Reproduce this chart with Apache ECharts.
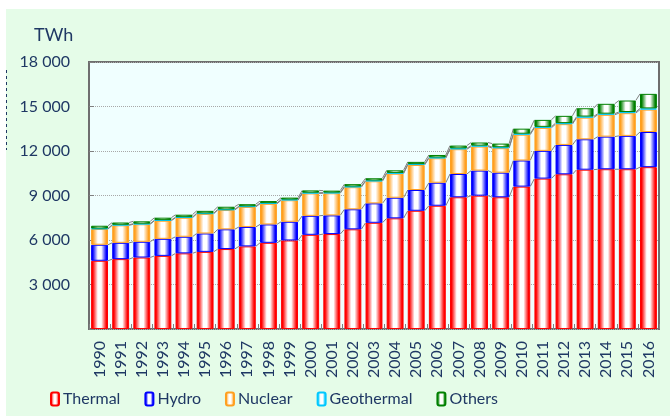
<!DOCTYPE html>
<html>
<head>
<meta charset="utf-8">
<script src="https://cdn.jsdelivr.net/npm/echarts@6/dist/echarts.min.js"></script>
<style>
  html, body { margin: 0; padding: 0; background: #ffffff; }
  #bg { position: absolute; left: 6px; top: 9px; width: 664px; height: 407px; background: #e5fce8; }
  #chart { position: absolute; left: 0; top: 0; width: 670px; height: 416px; }
</style>
</head>
<body>
<div id="bg"></div>
<div id="chart"></div>
<script>
const years = ['1990', '1991', '1992', '1993', '1994', '1995', '1996', '1997', '1998', '1999',
  '2000', '2001', '2002', '2003', '2004', '2005', '2006', '2007', '2008', '2009',
  '2010', '2011', '2012', '2013', '2014', '2015', '2016'];

// TWh
const thermal = [4600, 4710, 4820, 4930, 5100, 5200, 5390, 5570, 5810, 5970,
  6350, 6400, 6720, 7160, 7460, 7970, 8310, 8880, 8990, 8880,
  9600, 10140, 10430, 10740, 10770, 10770, 10910];
const hydro = [1080, 1100, 1060, 1150, 1120, 1240, 1330, 1310, 1240, 1260,
  1280, 1260, 1350, 1310, 1390, 1400, 1550, 1570, 1690, 1660,
  1760, 1870, 1980, 2050, 2200, 2250, 2370];
const nuclear = [1060, 1180, 1180, 1220, 1280, 1320, 1300, 1350, 1390, 1450,
  1510, 1490, 1490, 1490, 1620, 1690, 1650, 1670, 1620, 1650,
  1740, 1550, 1400, 1460, 1470, 1530, 1510];
const geothermal = [36, 38, 39, 40, 41, 40, 42, 44, 46, 47,
  49, 48, 50, 52, 54, 56, 57, 60, 62, 64,
  66, 68, 70, 72, 76, 79, 82];
const others = [185, 150, 160, 165, 165, 165, 180, 140, 140, 130,
  155, 130, 155, 150, 175, 150, 165, 185, 210, 245,
  340, 470, 490, 560, 665, 775, 980];

const yTicks = { min: 0, max: 18000, interval: 3000 };

const navy = '#1f3864';
const font = 'Lato, "Open Sans", sans-serif';

function fill(c) {
  return new echarts.graphic.LinearGradient(0, 0, 1, 0, [
    { offset: 0, color: c },
    { offset: 0.1, color: c },
    { offset: 0.4, color: '#ffffff' },
    { offset: 0.6, color: '#ffffff' },
    { offset: 0.9, color: c },
    { offset: 1, color: c }
  ]);
}

const layers = [
  { name: 'Thermal', data: thermal, color: '#ff0000' },
  { name: 'Hydro', data: hydro, color: '#0000ff' },
  { name: 'Nuclear', data: nuclear, color: '#ffa020' },
  { name: 'Geothermal', data: geothermal, color: '#00c8ff' },
  { name: 'Others', data: others, color: '#008000' }
];

const barSeries = layers.map(l => ({
  name: l.name,
  type: 'bar',
  stack: 'gen',
  barCategoryGap: '20%',
  data: l.data,
  itemStyle: { color: fill(l.color), borderColor: l.color, borderWidth: 1 }
}));

// cumulative tops for the connecting "series lines"
let running = years.map(() => 0);
const lineSeries = [];
layers.forEach(l => {
  running = running.map((v, i) => v + l.data[i]);
  const cum = running.slice();
  lineSeries.push({
    type: 'custom',
    silent: true,
    z: 1,
    encode: { x: 0, y: 1 },
    data: cum.slice(0, -1).map((v, i) => [i, v, cum[i + 1]]),
    renderItem: function (params, api) {
      const i = api.value(0);
      const a = api.coord([i, api.value(1)]);
      const b = api.coord([i + 1, api.value(2)]);
      const half = api.size([1, 0])[0] * 0.4;
      return {
        type: 'line',
        shape: { x1: a[0] + half, y1: a[1], x2: b[0] - half, y2: b[1] },
        style: { stroke: '#808080', lineWidth: 1 }
      };
    }
  });
});

const chart = echarts.init(document.getElementById('chart'));
chart.setOption({
  animation: false,
  backgroundColor: 'transparent',
  title: {
    text: 'TWh',
    left: 29,
    top: 21,
    textStyle: { color: navy, fontFamily: font, fontSize: 18, fontWeight: 'normal' }
  },
  grid: {
    left: 89, right: 11, top: 62, bottom: 87,
    show: true,
    backgroundColor: '#f0ffff',
    borderColor: '#6e6e6e',
    borderWidth: 2
  },
  legend: {
    data: layers.map(l => l.name),
    left: 50,
    top: 391,
    padding: 0,
    itemWidth: 8,
    itemHeight: 13,
    itemGap: 24,
    textStyle: { color: navy, fontFamily: font, fontSize: 16, padding: [0, 0, 0, -1] }
  },
  xAxis: {
    type: 'category',
    data: years,
    axisLine: { show: false },
    axisTick: { show: true, inside: true, length: 5, lineStyle: { color: '#808080' } },
    axisLabel: { rotate: 90, interval: 0, margin: 12, color: navy, fontFamily: font, fontSize: 16 }
  },
  yAxis: {
    type: 'value',
    min: yTicks.min,
    max: yTicks.max,
    interval: yTicks.interval,
    axisLine: { show: false },
    axisTick: { show: true, inside: true, length: 5, lineStyle: { color: '#808080' } },
    splitLine: { lineStyle: { color: '#a8a8a8', type: 'dotted' } },
    axisLabel: {
      margin: 19,
      color: navy,
      fontFamily: font,
      fontSize: 16,
      formatter: v => v === 0 ? '' : String(v).replace(/\B(?=(\d{3})+(?!\d))/g, ' ')
    }
  },
  graphic: [{
    type: 'line',
    shape: { x1: 6.5, y1: 70, x2: 6.5, y2: 150 },
    style: { stroke: navy, lineWidth: 1, lineDash: [3, 3] }
  }],
  series: barSeries.concat(lineSeries)
});
</script>
</body>
</html>
